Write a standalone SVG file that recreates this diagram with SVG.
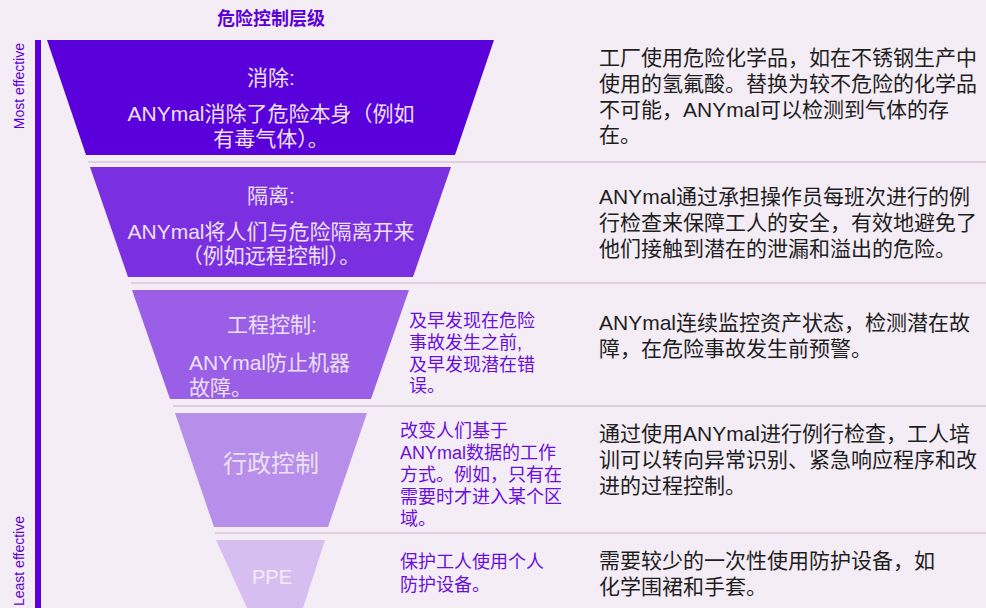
<svg xmlns="http://www.w3.org/2000/svg" width="986" height="608" viewBox="0 0 986 608">
<style>
text{font-family:"Liberation Sans","Noto Sans CJK SC",sans-serif}
.t{font-size:21px;fill:#ECE0F8;text-anchor:middle}
.mid{font-size:18px;fill:#6A10DE}
.r{font-size:21px;fill:#1E1E1E}
.sep{stroke:#E0CEE0;stroke-width:2}
.axis{font-size:14px;fill:#5B00DB;text-anchor:end}
</style>
<rect width="986" height="608" fill="#F4EDF5"/>
<text x="271" y="25" style="font-size:18px;font-weight:bold;fill:#5B00DB;text-anchor:middle">危险控制层级</text>
<g id="axis">
<rect x="35" y="40" width="6" height="568" fill="#5B00DB"/>
<text class="axis" transform="translate(24,43) rotate(-90)">Most effective</text>
<text class="axis" transform="translate(24,516) rotate(-90)">Least effective</text>
</g>
<g id="connectors">
<line class="sep" x1="88" y1="162" x2="986" y2="162"/>
<line class="sep" x1="131" y1="283" x2="986" y2="283"/>
<line class="sep" x1="173" y1="406" x2="986" y2="406"/>
<line class="sep" x1="215" y1="533" x2="986" y2="533"/>
</g>
<g id="level1">
<polygon points="47,40 494,40 455,155 86,155" fill="#5A00DB"/>
<text class="t" x="271" y="85">消除:</text>
<text class="t" x="271" y="121">ANYmal消除了危险本身（例如</text>
<text class="t" x="271" y="146">有毒气体）。</text>
<text class="r" x="599" y="65">工厂使用危险化学品，如在不锈钢生产中</text>
<text class="r" x="599" y="91">使用的氢氟酸。替换为较不危险的化学品</text>
<text class="r" x="599" y="117">不可能，ANYmal可以检测到气体的存</text>
<text class="r" x="599" y="142">在。</text>
</g>
<g id="level2">
<polygon points="90,167 451,167 413,277 128,277" fill="#7A2FE0"/>
<text class="t" x="271" y="203">隔离:</text>
<text class="t" x="271" y="239">ANYmal将人们与危险隔离开来</text>
<text class="t" x="271" y="263">（例如远程控制）。</text>
<text class="r" x="599" y="204">ANYmal通过承担操作员每班次进行的例</text>
<text class="r" x="599" y="230">行检查来保障工人的安全，有效地避免了</text>
<text class="r" x="599" y="256">他们接触到潜在的泄漏和溢出的危险。</text>
</g>
<g id="level3">
<polygon points="132,290 409,290 371,399 170,399" fill="#9A5FE6"/>
<text class="t" x="272" y="332">工程控制:</text>
<text class="t" x="189" y="370" style="text-anchor:start">ANYmal防止机器</text>
<text class="t" x="189" y="395" style="text-anchor:start">故障。</text>
<text class="mid" x="409" y="327">及早发现在危险</text>
<text class="mid" x="409" y="349">事故发生之前,</text>
<text class="mid" x="409" y="371">及早发现潜在错</text>
<text class="mid" x="409" y="392">误。</text>
<text class="r" x="599" y="330">ANYmal连续监控资产状态，检测潜在故</text>
<text class="r" x="599" y="356">障，在危险事故发生前预警。</text>
</g>
<g id="level4">
<polygon points="175,413 367,413 328,527 214,527" fill="#B78EE9"/>
<text class="t" x="271" y="472" style="font-size:24px">行政控制</text>
<text class="mid" x="400" y="437">改变人们基于</text>
<text class="mid" x="400" y="459">ANYmal数据的工作</text>
<text class="mid" x="400" y="481">方式。例如，只有在</text>
<text class="mid" x="400" y="503">需要时才进入某个区</text>
<text class="mid" x="400" y="525">域。</text>
<text class="r" x="599" y="441">通过使用ANYmal进行例行检查，工人培</text>
<text class="r" x="599" y="467">训可以转向异常识别、紧急响应程序和改</text>
<text class="r" x="599" y="493">进的过程控制。</text>
</g>
<g id="level5">
<polygon points="216,540 325,540 303,608 247,608" fill="#D6BFF0"/>
<text class="t" x="272" y="584" style="font-size:20px;fill:#F3EBFA">PPE</text>
<text class="mid" x="400" y="568">保护工人使用个人</text>
<text class="mid" x="400" y="591">防护设备。</text>
<text class="r" x="599" y="568">需要较少的一次性使用防护设备，如</text>
<text class="r" x="599" y="594">化学围裙和手套。</text>
</g>
</svg>
